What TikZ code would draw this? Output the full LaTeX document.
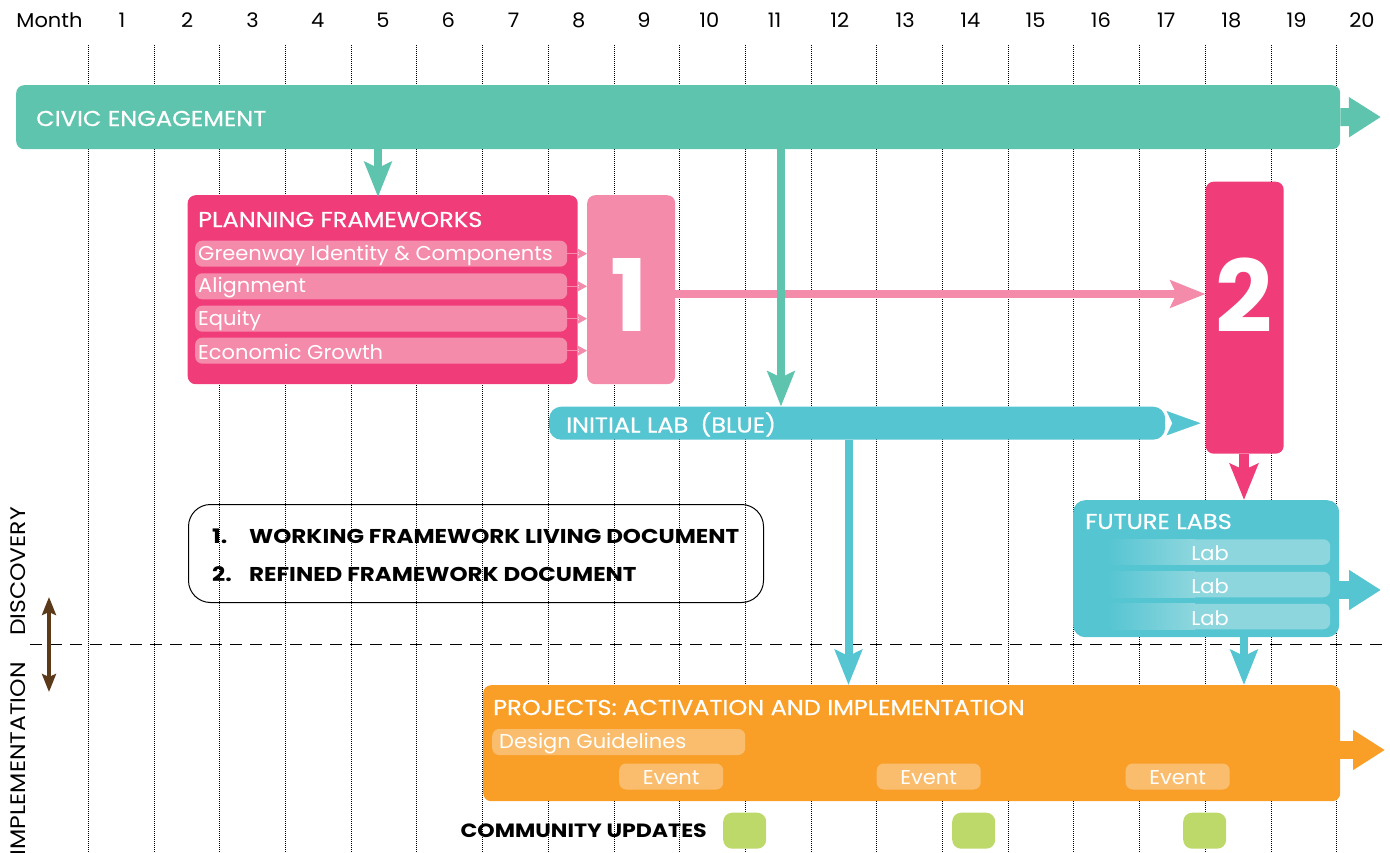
\documentclass[tikz,border=0pt]{standalone}
\usepackage{fontspec}
\setmainfont{Poppins}
\newfontfamily\ttlfont[FakeStretch=1.12,FakeBold=0.6]{Poppins}
\newfontfamily\capfont[FakeStretch=1.12]{Poppins}
\newfontfamily\subfont[FakeStretch=1.05]{Poppins}
\newfontfamily\legfont[FakeStretch=1.15]{Poppins}
\usetikzlibrary{arrows.meta}
\definecolor{cCivic}{HTML}{5FC4AE}
\definecolor{cMag}{HTML}{F03C78}
\definecolor{cPink}{HTML}{F58BAB}
\definecolor{cCyan}{HTML}{56C5D2}
\definecolor{cCyanL}{HTML}{8ED6DE}
\definecolor{cOrange}{HTML}{F99F28}
\definecolor{cOrangeL}{HTML}{FABD6E}
\definecolor{cGreen}{HTML}{BDD96A}
\definecolor{cBrown}{HTML}{5B3A1A}
\begin{document}
\begin{tikzpicture}[x=1pt,y=-1pt,
  box/.style={rectangle, rounded corners=8pt, inner sep=0pt, anchor=north west},
  ttl/.style={anchor=west, inner sep=0pt, text=white, font=\ttlfont\fontsize{21.5}{24}\selectfont},
  sub/.style={anchor=west, inner sep=0pt, text=white, font=\subfont\fontsize{20}{23}\selectfont},
  mon/.style={inner sep=0pt, font=\subfont\fontsize{20}{24}\selectfont},
  side/.style={inner sep=0pt, font=\capfont\fontsize{21}{24}\selectfont},
  bold/.style={inner sep=0pt, font=\legfont\fontsize{20}{23}\selectfont\bfseries},
  gridline/.style={black, line width=0.8pt, dash pattern=on 0.8pt off 1.2pt},
  fat/.style={line width=8pt, -{Stealth[length=35pt,width=27pt,inset=6pt]}},
  bigarrow/.style={line width=18pt, -{Triangle[length=32pt,width=38pt]}},
  small/.style={cPink, line width=1.5pt, -{Stealth[length=10pt,width=11pt,inset=2pt]}}
]
\useasboundingbox (0,0) rectangle (1390,853);
% grid
\foreach \i in {0,...,19} \draw[gridline] ({88.3+\i*65.7},45) -- ({88.3+\i*65.7},853);
\node[mon] (month) at (49.5,20) {Month};
\foreach \k in {1,...,20} \node[mon] (m\k) at ({122+(\k-1)*65.26},20) {\k};

% civic engagement
\node[box, fill=cCivic, minimum width=1324pt, minimum height=64pt] (civ) at (16,85) {};
\node[ttl] (civT) at (36,118.5) {CIVIC ENGAGEMENT};
\coordinate (civTip) at (1381,117);
\draw[cCivic, bigarrow] (civ.east) -- (civTip);

% planning frameworks
\node[box, fill=cMag, minimum width=390pt, minimum height=189pt] (pf) at (187.5,195) {};
\node[ttl] (pfT) at (198,219.5) {PLANNING FRAMEWORKS};
\node[box, fill=cPink, minimum width=88pt, minimum height=189pt] (b1) at (587,195) {};
\node[inner sep=0pt, text=white, font=\fontsize{100}{100}\selectfont\bfseries] (b1T) at (629,295) {1};
\foreach \t/\y [count=\i] in {Greenway Identity \& Components/253.7, Alignment/286.3, Equity/318.7, Economic Growth/350.7}{
  \node[rectangle, rounded corners=7pt, inner sep=0pt, anchor=west, fill=cPink, minimum width=372pt, minimum height=26pt] (r\i) at (195,\y) {};
  \node[sub] (rt\i) at (198,\y+1.5) {\t};
  \draw[small] (r\i.east) -- (b1.west |- r\i.east);
}

% box 2
\node[box, fill=cMag, minimum width=78pt, minimum height=272pt] (b2) at (1205.5,181.5) {};
\node[inner sep=0pt, text=white, font=\fontsize{100}{100}\selectfont\bfseries] (b2T) at (1244,295) {2};
\coordinate (y294) at (0,294);
\draw[cPink, fat] (b1.east |- y294) -- (b2.west |- y294);

% initial lab
\node[box, fill=cCyan, rounded corners=12pt, minimum width=616pt, minimum height=33pt] (lab) at (549,406.5) {};
\node[ttl] (labT) at (566,424.5) {INITIAL LAB\hspace{12pt}(BLUE)};
\draw[white, line width=1.5pt, -{Stealth[length=42pt,width=30pt,inset=7pt,fill=cCyan]}] (lab.east) -- (b2.west |- lab.east);

% civic arrows
\coordinate (x378) at (378,0);
\coordinate (x781) at (781,0);
\draw[cCivic, fat] (civ.south -| x378) -- ([yshift=-2pt]pf.north -| x378);
\draw[cCivic, fat] (civ.south -| x781) -- (lab.north -| x781);

% legend
\node[box, draw=black, line width=1pt, rounded corners=22pt, minimum width=575pt, minimum height=98pt] (leg) at (188,504) {};
\node[bold, anchor=west] (l1n) at (212,536) {1.};
\node[bold, anchor=west] (l1t) at (249,536) {WORKING FRAMEWORK LIVING DOCUMENT};
\node[bold, anchor=west] (l2n) at (212,574) {2.};
\node[bold, anchor=west] (l2t) at (249,574) {REFINED FRAMEWORK DOCUMENT};

% future labs
\node[box, fill=cCyan, rounded corners=12pt, minimum width=266pt, minimum height=137pt] (fl) at (1073,500) {};
\node[ttl] (flT) at (1085,521.5) {FUTURE LABS};
\foreach \y [count=\i] in {552,584.5,616.5}{
  \node[rectangle, rounded corners=7pt, inner sep=0pt, anchor=west, fill=cCyanL, minimum width=222pt, minimum height=25.5pt] (lb\i) at (1108,\y) {};
  \shade[left color=cCyan, right color=cCyanL] (1108,{\y-12.75}) rectangle (1195,{\y+12.75});
  \node[sub, anchor=center] (lbt\i) at (1210,\y+1.5) {Lab};
}
\coordinate (flTip) at (1381,590);
\draw[cCyan, bigarrow] (fl.east |- flTip) -- (flTip);
\coordinate (x1244) at (1244,0);
\draw[cMag, line width=10pt, -{Stealth[length=36pt,width=28pt,inset=6pt]}] (b2.south -| x1244) -- (fl.north -| x1244);

% discovery / implementation
\coordinate (dL) at (30,644);
\coordinate (dR) at (1385,644);
\draw[black, line width=1pt, dash pattern=on 12pt off 8pt] (dL) -- (dR);
\node[side, rotate=90] (disc) at (18,571.5) {DISCOVERY};
\node[side, rotate=90, anchor=east] (impl) at (18,662) {IMPLEMENTATION};
\coordinate (brT) at (49,597);
\coordinate (brB) at (49,692);
\draw[cBrown, line width=3.5pt, {Stealth[length=18pt,width=14pt,inset=3pt]}-{Stealth[length=18pt,width=14pt,inset=3pt]}] (brT) -- (brB);

% projects
\node[box, fill=cOrange, minimum width=857pt, minimum height=116pt] (pr) at (483,685) {};
\node[ttl] (prT) at (493,707.5) {PROJECTS: ACTIVATION AND IMPLEMENTATION};
\node[rectangle, rounded corners=7pt, inner sep=0pt, anchor=west, fill=cOrangeL, minimum width=253pt, minimum height=26pt] (dg) at (492,742) {};
\node[sub] (dgT) at (499,743.5) {Design Guidelines};
\foreach \x [count=\i] in {619,876.5,1125.5}{
  \node[rectangle, rounded corners=7pt, inner sep=0pt, anchor=west, fill=cOrangeL, minimum width=104pt, minimum height=26pt] (ev\i) at (\x,776.5) {};
  \node[sub, anchor=center] (evT\i) at ([yshift=-1.5pt]ev\i.center) {Event};
}
\coordinate (prTip) at (1385,750);
\draw[cOrange, bigarrow] (pr.east |- prTip) -- (prTip);

% arrows into projects
\coordinate (x848) at (848.5,0);
\draw[cCyan, fat] (lab.south -| x848) -- (pr.north -| x848);
\draw[cCyan, fat] (fl.south -| x1244) -- (pr.north -| x1244);

% community updates
\node[bold, anchor=east, font=\legfont\fontsize{19.2}{23}\selectfont\bfseries] (cu) at (707,831) {COMMUNITY UPDATES};
\foreach \x [count=\i] in {723,952,1183}{
  \node[box, fill=cGreen, rounded corners=9pt, minimum width=43pt, minimum height=36pt] (g\i) at (\x,812.5) {};
}
\end{tikzpicture}
\end{document}
